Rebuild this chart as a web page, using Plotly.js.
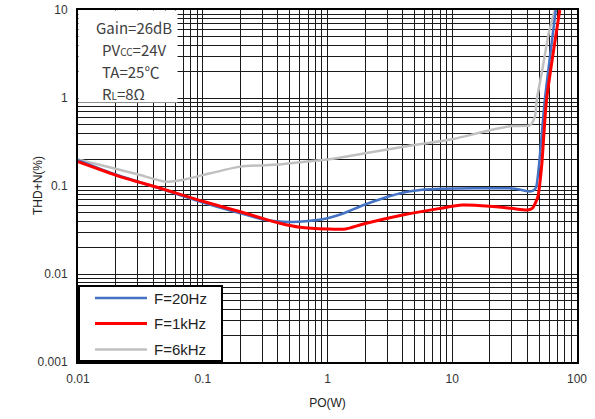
<!DOCTYPE html>
<html>
<head>
<meta charset="utf-8">
<script src="https://cdn.plot.ly/plotly-3.0.1.min.js"></script>
<style>
html,body{margin:0;padding:0;background:#fff;}
#chart{width:595px;height:419px;}
</style>
</head>
<body>
<div id="chart"></div>
<script>
// ---- data ----
const seriesNames = ['F=20Hz', 'F=1kHz', 'F=6kHz'];

const po20Hz  = [0.01, 0.02, 0.045, 0.1, 0.2, 0.32, 0.5, 0.7, 1.0, 1.4, 1.9, 3.0, 4.0, 6.0, 8.0, 15, 29, 36, 40, 44, 46.8, 49.4, 55.2, 67.6];
const thd20Hz = [0.197, 0.135, 0.094, 0.065, 0.049, 0.041, 0.039, 0.040, 0.043, 0.050, 0.060, 0.075, 0.084, 0.091, 0.093, 0.094, 0.094, 0.090, 0.087, 0.088, 0.095, 0.164, 0.95, 10];

const po1k  = [0.01, 0.0217, 0.045, 0.1, 0.2, 0.315, 0.415, 0.6, 1.0, 1.4, 1.9, 4.0, 8.0, 12, 20, 30, 40, 44, 48.5, 52.0, 57.0, 72.8];
const thd1k = [0.189, 0.128, 0.095, 0.067, 0.051, 0.042, 0.0377, 0.034, 0.0325, 0.0325, 0.0367, 0.0468, 0.0557, 0.0608, 0.059, 0.0557, 0.0534, 0.056, 0.075, 0.164, 0.95, 10];

const po6k  = [0.01, 0.02, 0.03, 0.05, 0.07, 0.1, 0.2, 0.4, 0.6, 1.0, 2.0, 4.8, 10, 20, 30, 42, 45.9, 47.6, 53.2, 59.4, 66.4];
const thd6k = [0.2, 0.157, 0.136, 0.112, 0.118, 0.133, 0.166, 0.175, 0.186, 0.2, 0.235, 0.29, 0.34, 0.43, 0.48, 0.49, 0.61, 0.95, 2.25, 5.48, 10];

const xDecades = [0.01, 0.1, 1, 10, 100];
const xTickLabels = ['0.01', '0.1', '1', '10', '100'];
const yDecades = [0.001, 0.01, 0.1, 1, 10];
const yTickLabels = ['0.001', '0.01', '0.1', '1', '10'];

const xTitle = 'PO(W)';
const yTitle = 'THD+N(%)';
const infoLines = ['Gain=26dB', 'PV<span style="font-size:10px">CC</span>=24V', 'TA=25℃', 'R<span style="font-size:10px">L</span>=8Ω'];

// ---- gridline ticks: every 1..9 within each decade, labels only on decades ----
function logTicks(decades, labels) {
  const vals = [], text = [];
  for (let i = 0; i < decades.length; i++) {
    const d = decades[i];
    vals.push(d); text.push(labels[i]);
    if (i < decades.length - 1) {
      for (let m = 2; m <= 9; m++) { vals.push(d * m); text.push(''); }
    }
  }
  return {vals, text};
}
const xt = logTicks(xDecades, xTickLabels);
const yt = logTicks(yDecades, yTickLabels);

const colors = ['#4472C4', '#FF0000', '#C0C0C0'];
const widths = [2.5, 3, 2.5];
const xs = [po20Hz, po1k, po6k];
const ys = [thd20Hz, thd1k, thd6k];

const traces = [2, 0, 1].map(i => ({
  x: xs[i], y: ys[i], name: seriesNames[i], type: 'scatter', mode: 'lines',
  line: {color: colors[i], width: widths[i], shape: 'spline', smoothing: 0.6},
  legendrank: i + 1, hoverinfo: 'skip'
}));

const sans = 'Liberation Sans, Arial, sans-serif';
const tickFont = {family: sans, size: 12, color: '#333'};

const annotations = [{
  xref: 'paper', yref: 'paper', x: 0, y: 1, xanchor: 'left', yanchor: 'top',
  text: ' ', showarrow: false, bgcolor: '#fff', width: 98, height: 91, borderpad: 0
}];
infoLines.forEach((t, k) => {
  annotations.push({
    xref: 'paper', yref: 'paper', x: (k === 0 ? 16 : 22) / 499, y: 1 - (17 + k * 22) / 352,
    xanchor: 'left', yanchor: 'middle', text: t, showarrow: false,
    font: {family: 'Noto Sans CJK SC, Noto Sans, sans-serif', size: 15, color: '#404040'}
  });
});
annotations.push({
  xref: 'paper', yref: 'paper', x: -40 / 499, y: 0.5, xanchor: 'center', yanchor: 'middle',
  text: yTitle, textangle: -90, showarrow: false, font: {family: sans, size: 12, color: '#222'}
});

const layout = {
  width: 595, height: 419,
  margin: {l: 78, r: 18, t: 10, b: 57},
  paper_bgcolor: '#fff', plot_bgcolor: '#fff',
  showlegend: true,
  legend: {
    x: 0, y: 0, xanchor: 'left', yanchor: 'bottom',
    bgcolor: '#fff', bordercolor: '#000', borderwidth: 2,
    font: {family: sans, size: 15, color: '#222'},
    itemwidth: 64, tracegroupgap: 0, traceorder: 'normal'
  },
  xaxis: {
    type: 'log', range: [-2, 2], tickmode: 'array', tickvals: xt.vals, ticktext: xt.text,
    showgrid: true, gridcolor: '#1a1a1a', gridwidth: 1,
    ticks: 'outside', ticklen: 5, tickcolor: 'rgba(0,0,0,0)',
    showline: true, linecolor: '#000', linewidth: 2, mirror: true, zeroline: false,
    tickfont: tickFont,
    title: {text: xTitle, font: {family: sans, size: 12, color: '#222'}, standoff: 13}
  },
  yaxis: {
    type: 'log', range: [-3, 1], tickmode: 'array', tickvals: yt.vals, ticktext: yt.text,
    showgrid: true, gridcolor: '#1a1a1a', gridwidth: 1,
    ticks: 'outside', ticklen: 6, tickcolor: 'rgba(0,0,0,0)',
    showline: true, linecolor: '#000', linewidth: 2, mirror: true, zeroline: false,
    tickfont: tickFont
  },
  annotations: annotations
};

Plotly.newPlot('chart', traces, layout, {staticPlot: true, displayModeBar: false}).then(gd => {
  // fine-tune the legend box to the reference proportions
  const leg = gd.querySelector('.legend');
  if (!leg) return;
  const plotTop = 10, plotH = 352, plotLeft = 78;
  const boxW = 145, boxH = 77;
  leg.setAttribute('transform', `translate(${plotLeft},${plotTop + plotH - boxH})`);
  const bg = leg.querySelector('rect.bg');
  if (bg) { bg.setAttribute('x', 1); bg.setAttribute('y', 1); bg.setAttribute('width', boxW - 2); bg.setAttribute('height', boxH - 2); }
  const items = leg.querySelectorAll('.traces');
  const rowY = [13, 38.5, 64.5];
  items.forEach((it, k) => it.setAttribute('transform', `translate(2,${rowY[k]})`));
  leg.querySelectorAll('.legendlines path').forEach(p => p.setAttribute('d', 'M15,0h52'));
  const sb = leg.querySelector('.scrollbox');
  if (sb) sb.removeAttribute('clip-path');
});
</script>
</body>
</html>
